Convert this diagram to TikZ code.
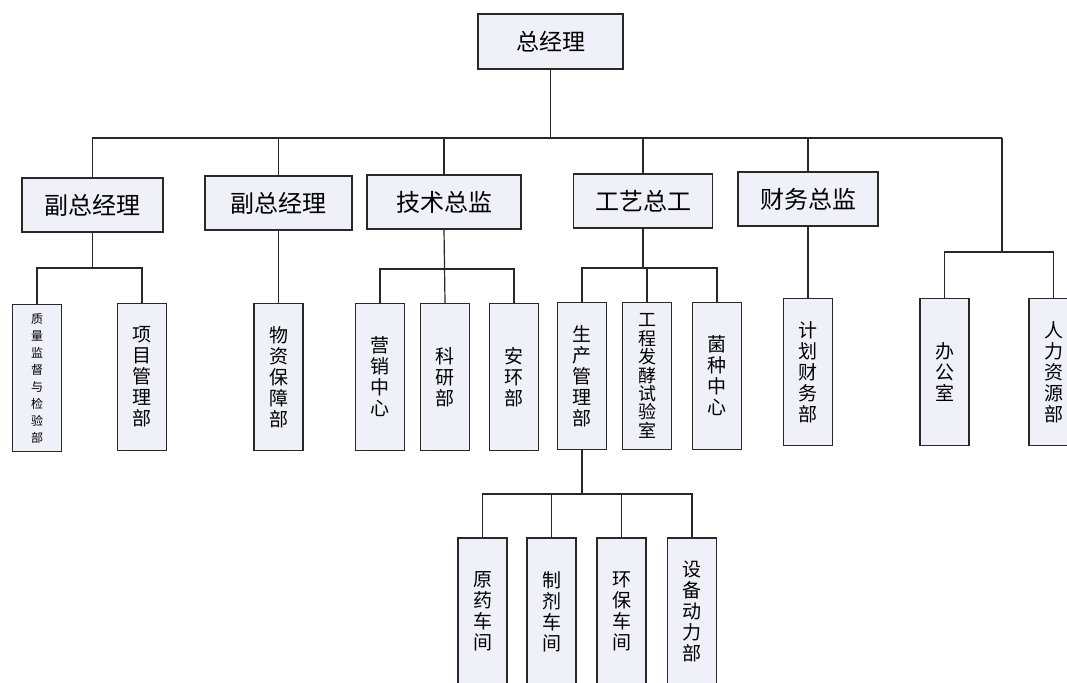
\documentclass[tikz,border=0pt]{standalone}
\usepackage{fontspec}
\setmainfont{Noto Sans CJK SC}
\definecolor{boxfill}{RGB}{240,240,248}
\definecolor{edge}{RGB}{40,40,40}
\tikzset{
  box/.style={draw=edge, line width=1.4pt, fill=boxfill, inner sep=0pt},
  hbox/.style={box, minimum height=54pt, font=\fontsize{24}{26}\selectfont},
  vbox/.style={box, minimum width=49pt, minimum height=147pt, align=center,
               font=\fontsize{19}{21}\selectfont},
  conn/.style={draw=edge, line width=1.2pt}
}
\begin{document}
\begin{tikzpicture}[x=1pt,y=-1pt]
\useasboundingbox (0,0) rectangle (1067,682);
% level 1
\node[box, minimum width=145pt, minimum height=55pt, font=\fontsize{23}{25}\selectfont] (top) at (550.5,41.5) {总经理};
% level 2
\node[hbox, minimum width=141pt] (a1) at (92.5,205) {副总经理};
\node[hbox, minimum width=147pt] (a2) at (278.5,203) {副总经理};
\node[hbox, minimum width=154pt] (a3) at (444,202) {技术总监};
\node[hbox, minimum width=139pt] (a4) at (643,201) {工艺总工};
\node[hbox, minimum width=140pt] (a5) at (808,199) {财务总监};
% level 3
\node[vbox, font=\fontsize{12}{17}\selectfont] (b1) at (37,378) {质\\量\\监\\督\\与\\检\\验\\部};
\node[vbox] (b2) at (142,377) {项\\目\\管\\理\\部};
\node[vbox] (b3) at (278.5,377) {物\\资\\保\\障\\部};
\node[vbox] (b4) at (380,377) {营\\销\\中\\心};
\node[vbox] (b5) at (445,377) {科\\研\\部};
\node[vbox] (b6) at (514,377) {安\\环\\部};
\node[vbox] (b7) at (582,376) {生\\产\\管\\理\\部};
\node[vbox, font=\fontsize{18}{18.4}\selectfont] (b8) at (647,376) {工\\程\\发\\酵\\试\\验\\室};
\node[vbox] (b9) at (717,376) {菌\\种\\中\\心};
\node[vbox] (b10) at (808,372) {计\\划\\财\\务\\部};
\node[vbox] (b11) at (944.5,372) {办\\公\\室};
\node[vbox] (b12) at (1053.5,372) {人\\力\\资\\源\\部};
% level 4
\node[vbox] (c1) at (482.5,611.5) {原\\药\\车\\间};
\node[vbox] (c2) at (551.5,611.5) {制\\剂\\车\\间};
\node[vbox] (c3) at (621.5,611.5) {环\\保\\车\\间};
\node[vbox] (c4) at (692,611.5) {设\\备\\动\\力\\部};
% junction rows
\coordinate (bus) at (0,138);
\coordinate (rc) at (1002,138);
\coordinate (rb) at (1002,252);
\coordinate (j1) at (0,268);
\coordinate (j3) at (0,269);
\coordinate (j4) at (0,268);
\coordinate (j7) at (0,494);
% main bus
\draw[conn] (top.south) -- (top.south |- bus);
\draw[conn] (a1.north) -- (a1.north |- bus) -- (rc);
\foreach \n in {a2,a3,a4,a5} \draw[conn] (\n.north) -- (\n.north |- bus);
\draw[conn] (rc) -- (rb);
\draw[conn] (b11.north) -- (b11.north |- rb) -- (b12.north |- rb) -- (b12.north);
% under a1
\draw[conn] (a1.south) -- (a1.south |- j1);
\draw[conn] (b1.north) -- (b1.north |- j1) -- (b2.north |- j1) -- (b2.north);
% under a2
\draw[conn] (a2.south) -- (b3.north);
% under a3
\draw[conn] (a3.south) -- (b5.north);
\draw[conn] (b4.north) -- (b4.north |- j3) -- (b6.north |- j3) -- (b6.north);
% under a4
\draw[conn] (a4.south) -- (a4.south |- j4);
\draw[conn] (b7.north) -- (b7.north |- j4) -- (b9.north |- j4) -- (b9.north);
\draw[conn] (b8.north) -- (b8.north |- j4);
% under a5
\draw[conn] (a5.south) -- (b10.north);
% under b7
\draw[conn] (b7.south) -- (b7.south |- j7);
\draw[conn] (c1.north) -- (c1.north |- j7) -- (c4.north |- j7) -- (c4.north);
\foreach \n in {c2,c3} \draw[conn] (\n.north) -- (\n.north |- j7);
\end{tikzpicture}
\end{document}
